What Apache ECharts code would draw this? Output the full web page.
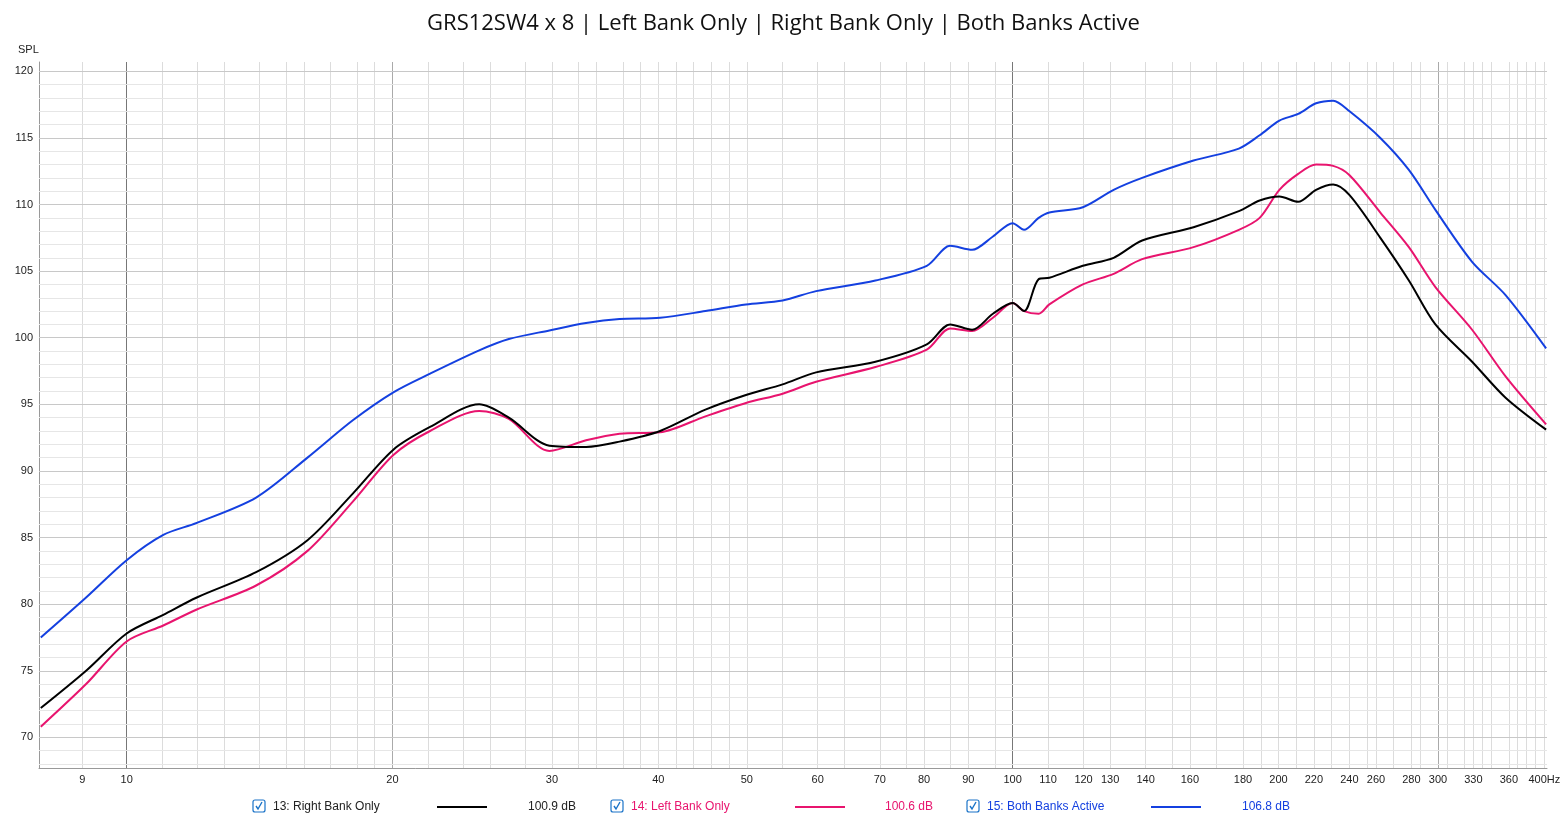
<!DOCTYPE html>
<html><head><meta charset="utf-8">
<script src="https://cdn.jsdelivr.net/npm/echarts@6/dist/echarts.min.js"></script>
<style>html,body{margin:0;padding:0;background:#fff}#c{width:1567px;height:819px}</style>
</head><body><div id="c"></div>
<script>
const freqs = [8,9,10,11,12,14,16,18,20,22,25,27,30,33,36,40,45,50,55,60,70,80,85,90,95,100,103,107,110,120,130,140,160,180,190,200,210,220,230,240,260,280,300,330,360,400];
const rightBank = [72.2,75,77.8,79.2,80.5,82.4,84.8,88.3,91.6,93.3,95,94,91.9,91.8,92.2,93,94.6,95.7,96.5,97.4,98.2,99.5,101,100.6,101.8,102.6,102.0,104.4,104.5,105.4,106,107.3,108.3,109.5,110.3,110.6,110.2,111.1,111.5,110.7,107.5,104.3,101,98.2,95.5,93.1];
const leftBank = [70.8,74,77.2,78.4,79.6,81.4,84.0,87.7,91.2,93,94.5,93.9,91.5,92.3,92.8,92.9,94.1,95.1,95.8,96.7,97.8,99.1,100.7,100.5,101.5,102.6,102,101.8,102.5,104,104.8,105.9,106.8,108.1,109,111.1,112.3,113,112.9,112.2,109.4,106.8,103.8,100.6,97.1,93.5];
const bothBanks = [77.5,80.5,83.3,85.2,86.1,88,91,93.8,95.9,97.3,99.05,99.9,100.55,101.1,101.4,101.5,102,102.5,102.8,103.5,104.3,105.4,106.9,106.6,107.6,108.6,108.1,109,109.4,109.8,111.1,112,113.3,114.2,115.2,116.3,116.8,117.6,117.8,117,115,112.6,109.6,105.7,103.2,99.2];
const xTickLabels = [8,9,10,20,30,40,50,60,70,80,90,100,110,120,130,140,160,180,200,220,240,260,280,300,330,360,400];
const yTickLabels = [70,75,80,85,90,95,100,105,110,115,120];

const L = Math.log10;
const vGrid = [];
for (let f=8; f<20; f++) vGrid.push(f);
for (let f=20; f<50; f+=2) vGrid.push(f);
for (let f=50; f<100; f+=5) vGrid.push(f);
for (let f=100; f<=400; f+=10) vGrid.push(f);
const vData = vGrid.map(f => {
  const major = (f===10||f===100);
  const mid = (f===20||f===300);
  return {xAxis: L(f), lineStyle:{color: major?'#777':(mid?'#aaa':'#dcdcdc'), width:1, type:'solid'},
    label:{show: xTickLabels.includes(f), formatter: f===400?'400Hz':String(f), position:'start', color:'#222', fontSize:11, distance:6}};
});
const hData = [];
for (let v=68; v<=120; v++) {
  hData.push({yAxis:v, lineStyle:{color: v%5===0?'#c8c8c8':'#e6e6e6', width:1, type:'solid'},
    label:{show: yTickLabels.includes(v), formatter:String(v), position:'start', color:'#222', fontSize:11, distance:6}});
}
const mk = arr => freqs.map((f,i)=>[L(f), arr[i]]);
const chart = echarts.init(document.getElementById('c'));
const lineSer = (name, arr, color) => ({type:'line', name, data: mk(arr), symbol:'none', smooth:0.3,
  lineStyle:{color, width:2}, itemStyle:{color}, z:5, animation:false});
function legendItem(x0, name, color, db, lineX, dbX, textColor) {
  return [
    {type:'rect', shape:{x:x0-6,y:800,width:12,height:12,r:2}, style:{fill:'#fff',stroke:'#1a73c8',lineWidth:1.2}},
    {type:'polyline', shape:{points:[[x0-3,806],[x0-1,809],[x0+3,802]]}, style:{stroke:'#1a73c8',lineWidth:1.4,fill:null}},
    {type:'text', x:x0+14, y:801, style:{text:name, fill:textColor, font:'12px "Liberation Sans", Arial'}},
    {type:'line', shape:{x1:lineX,y1:807,x2:lineX+50,y2:807}, style:{stroke:color,lineWidth:2}},
    {type:'text', x:dbX, y:801, style:{text:db, fill:textColor, font:'12px "Liberation Sans", Arial'}}
  ];
}
chart.setOption({
  animation:false,
  backgroundColor:'#fff',
  title:{text:'GRS12SW4 x 8 | Left Bank Only | Right Bank Only | Both Banks Active', left:'center', top:8,
    textStyle:{fontSize:22, fontWeight:'normal', color:'#111', fontFamily:'"Open Sans", "Liberation Sans", sans-serif'}},
  grid:{left:39, right:20, top:62, bottom:51},
  xAxis:{type:'value', min:L(8)-0.002, max:L(400)+0.001, axisLabel:{show:false}, axisTick:{show:false}, splitLine:{show:false},
    axisLine:{show:true, lineStyle:{color:'#999'}}},
  yAxis:{type:'value', min:67.7, max:120.7, axisLabel:{show:false}, axisTick:{show:false}, splitLine:{show:false},
    axisLine:{show:true, lineStyle:{color:'#999'}}},
  graphic:[
    {type:'text', x:18, y:44, style:{text:'SPL', fill:'#222', font:'11px "Liberation Sans", Arial'}},
    ...legendItem(259,'13: Right Bank Only','#000','100.9 dB',437,528,'#222'),
    ...legendItem(617,'14: Left Bank Only','#e8146e','100.6 dB',795,885,'#e8146e'),
    ...legendItem(973,'15: Both Banks Active','#1440e0','106.8 dB',1151,1242,'#1440e0')
  ],
  series:[
    {type:'line', data:[], silent:true, markLine:{symbol:'none', silent:true, animation:false, data:vData}},
    {type:'line', data:[], silent:true, markLine:{symbol:'none', silent:true, animation:false, data:hData}},
    lineSer('Both Banks Active', bothBanks, '#1440e0'),
    lineSer('Left Bank Only', leftBank, '#e8146e'),
    lineSer('Right Bank Only', rightBank, '#000')
  ]
});
</script></body></html>
